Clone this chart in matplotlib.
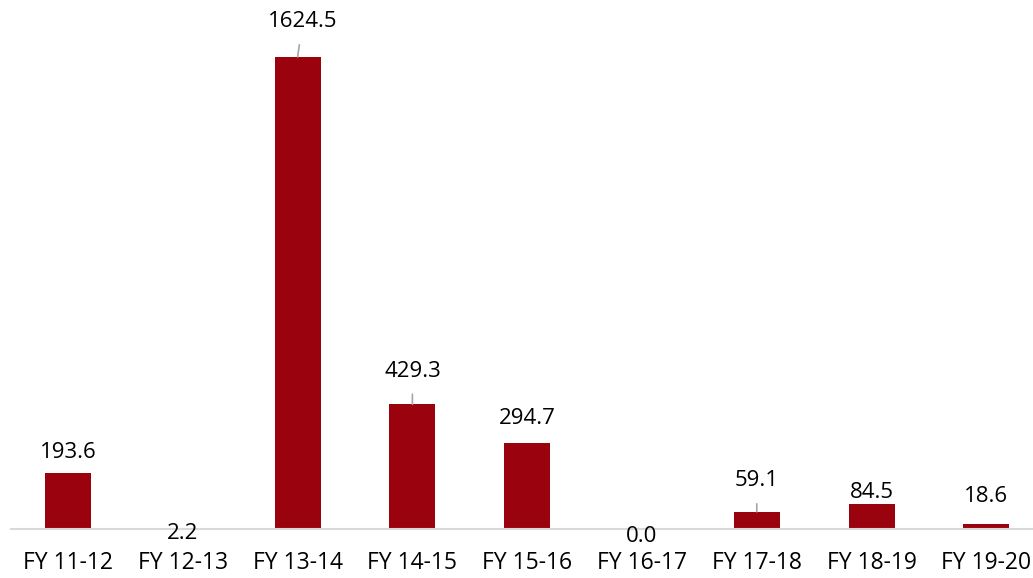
import matplotlib
matplotlib.use('Agg')
import matplotlib.pyplot as plt

plt.rcParams['font.family'] = ['Open Sans', 'DejaVu Sans']

years = ['FY 11-12', 'FY 12-13', 'FY 13-14', 'FY 14-15', 'FY 15-16',
         'FY 16-17', 'FY 17-18', 'FY 18-19', 'FY 19-20']
values = [193.6, 2.2, 1624.5, 429.3, 294.7, 0.0, 59.1, 84.5, 18.6]
labels = ['193.6', '2.2', '1624.5', '429.3', '294.7', '0.0', '59.1', '84.5', '18.6']

# label offsets in pixels from bar top (dx, dy) and whether a leader line is drawn
offsets = [(0, 20), (0, -5), (5, 35), (0, 33), (0, 25), (0, -7), (0, 31), (0, 12), (0, 27)]
leaders = [False, False, True, True, False, False, True, False, False]

bar_color = '#9A030E'

fig = plt.figure(figsize=(10.33, 5.78), dpi=100)
ax = fig.add_axes([10.6 / 1033, 49 / 578, 1022.4 / 1033, 529 / 578])

x = list(range(len(years)))
ax.bar(x, values, width=0.40, color=bar_color, zorder=2)

ax.set_xlim(-0.5, -0.5 + 1022.4 / 114.8)
ax.set_ylim(0, 529 / 0.2906)

for xi, v, lab, (dx, dy), lead in zip(x, values, labels, offsets, leaders):
    if lead:
        ax.annotate(lab, xy=(xi, v), xytext=(dx, dy), textcoords='offset pixels',
                    ha='center', va='center', fontsize=16, color='#000000',
                    arrowprops=dict(arrowstyle='-', color='#A6A6A6', lw=1.2,
                                    shrinkA=7, shrinkB=0))
    else:
        ax.annotate(lab, xy=(xi, v), xytext=(dx, dy), textcoords='offset pixels',
                    ha='center', va='center', fontsize=16, color='#000000')

ax.set_xticks(x)
ax.set_xticklabels(years, fontsize=16.5)
ax.tick_params(axis='x', length=0, pad=16)
ax.set_yticks([])

for s in ['top', 'right', 'left']:
    ax.spines[s].set_visible(False)
ax.spines['bottom'].set_color('#D9D9D9')
ax.spines['bottom'].set_linewidth(1.5)

fig.savefig('out.png', dpi=100)
